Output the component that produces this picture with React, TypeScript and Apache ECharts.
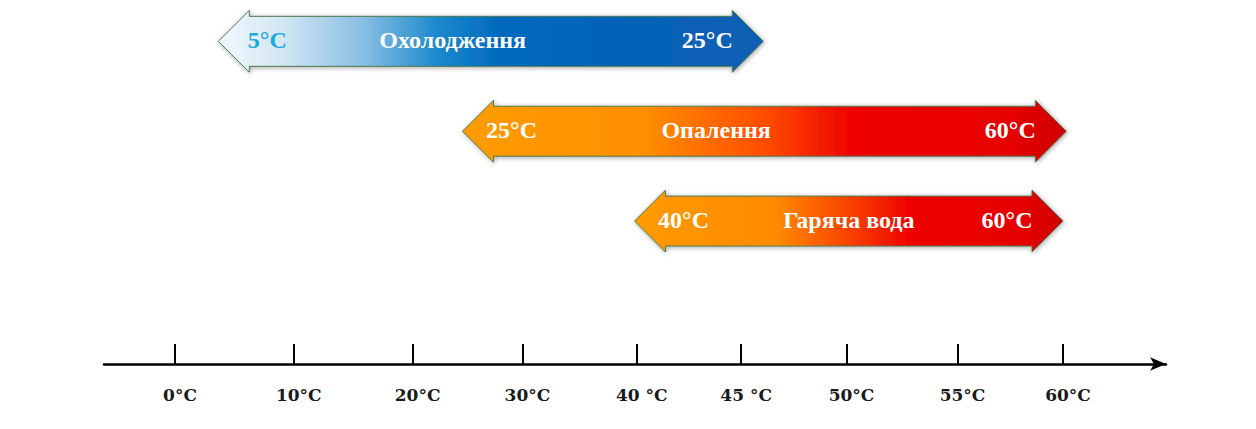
import React, { useEffect, useRef } from "react";
import * as echarts from "echarts";

// Axis ticks (temperature labels) and their positions along the schematic axis
const tickLabels = ["0°C", "10°C", "20°C", "30°C", "40 °C", "45 °C", "50°C", "55°C", "60°C"];
const tickSlots = [0, 1.07, 2.14, 3.13, 4.16, 5.1, 6.05, 7.05, 8];

// Operating modes
const modeNames = ["Охолодження", "Опалення", "Гаряча вода"];
const modeFrom = ["5°C", "25°C", "40°C"];
const modeTo = ["25°C", "60°C", "60°C"];
const arrowStart = [0.39, 2.59, 4.14];
const arrowEnd = [5.3, 8.03, 8.0];
const modeRow = [2, 1, 0];

const titleFrac = [0.43, 0.42, 0.5];
const gradients = [
  [
    { offset: 0, color: "#f2f8fc" },
    { offset: 0.12, color: "#d2e6f4" },
    { offset: 0.27, color: "#86bde2" },
    { offset: 0.4, color: "#1d89cc" },
    { offset: 0.52, color: "#0068be" },
    { offset: 1, color: "#0a5eb3" },
  ],
  [
    { offset: 0, color: "#ff9c00" },
    { offset: 0.3, color: "#ff8f00" },
    { offset: 0.5, color: "#ff4d00" },
    { offset: 0.64, color: "#ee0500" },
    { offset: 0.9, color: "#e80000" },
    { offset: 1, color: "#cc0000" },
  ],
  [
    { offset: 0, color: "#ff9a00" },
    { offset: 0.33, color: "#ff8a00" },
    { offset: 0.52, color: "#f83a00" },
    { offset: 0.64, color: "#ee0300" },
    { offset: 0.9, color: "#e60000" },
    { offset: 1, color: "#cf0000" },
  ],
];

const arrowData = modeNames.map((_, i) => [arrowStart[i], arrowEnd[i], modeRow[i]]);

const textFont = "bold 24px 'Liberation Serif', 'Times New Roman', serif";

export default function App() {
  const ref = useRef<HTMLDivElement>(null);
  useEffect(() => {
    if (!ref.current) return;
    const chart = echarts.init(ref.current, null, { renderer: "svg" });
    chart.setOption({
      animation: false,
      backgroundColor: "#ffffff",
      grid: { left: 104, right: 90, top: 0, bottom: 65 },
      xAxis: {
        type: "value",
        min: -0.64,
        max: 8.928,
        splitLine: { show: false },
        axisLine: {
          show: true,
          onZero: false,
          symbol: ["none", "arrow"],
          symbolSize: [10, 16],
          lineStyle: { color: "#000", width: 2.5 },
        },
        axisTick: {
          show: true,
          inside: true,
          length: 20,
          customValues: tickSlots,
          lineStyle: { color: "#000", width: 2 },
        },
        axisLabel: {
          show: true,
          customValues: tickSlots,
          margin: 22,
          padding: [0, 0, 0, 10],
          color: "#1a1a1a",
          fontFamily: "'DejaVu Serif', serif",
          fontWeight: "bold",
          fontSize: 17,
          formatter: (v: number) => {
            let best = 0;
            tickSlots.forEach((s, k) => {
              if (Math.abs(s - v) < Math.abs(tickSlots[best] - v)) best = k;
            });
            return tickLabels[best];
          },
        },
      },
      yAxis: { type: "value", min: -1.59, max: 2.46, show: false },
      series: [
        {
          type: "custom",
          clip: false,
          encode: { x: [0, 1], y: 2 },
          data: arrowData,
          renderItem: (params: any, api: any) => {
            const i = params.dataIndex;
            const p0 = api.coord([api.value(0), api.value(2)]);
            const p1 = api.coord([api.value(1), api.value(2)]);
            const x0 = p0[0];
            const x1 = p1[0];
            const cy = p0[1];
            const hs = 25;
            const hh = 31;
            const hl = 31;
            const pts = [
              [x0, cy],
              [x0 + hl, cy - hh],
              [x0 + hl, cy - hs],
              [x1 - hl, cy - hs],
              [x1 - hl, cy - hh],
              [x1, cy],
              [x1 - hl, cy + hh],
              [x1 - hl, cy + hs],
              [x0 + hl, cy + hs],
              [x0 + hl, cy + hh],
            ];
            const tx = x0 + (x1 - x0) * titleFrac[i];
            return {
              type: "group",
              children: [
                {
                  type: "polygon",
                  shape: { points: pts },
                  style: {
                    fill: new echarts.graphic.LinearGradient(0, 0, 1, 0, gradients[i]),
                    stroke: "#4f7a4f",
                    lineWidth: 1,
                    shadowBlur: 5,
                    shadowColor: "rgba(0,0,0,0.35)",
                    shadowOffsetX: 1,
                    shadowOffsetY: 1,
                  },
                },
                {
                  type: "text",
                  x: x0 + 49,
                  y: cy - 1,
                  style: {
                    text: modeFrom[i],
                    fill: i === 0 ? "#1aa9de" : "#ffffff",
                    font: textFont,
                    align: "center",
                    verticalAlign: "middle",
                  },
                },
                {
                  type: "text",
                  x: tx,
                  y: cy - 1,
                  style: {
                    text: modeNames[i],
                    fill: "#ffffff",
                    font: textFont,
                    align: "center",
                    verticalAlign: "middle",
                  },
                },
                {
                  type: "text",
                  x: x1 - 56,
                  y: cy - 1,
                  style: {
                    text: modeTo[i],
                    fill: "#ffffff",
                    font: textFont,
                    align: "center",
                    verticalAlign: "middle",
                  },
                },
              ],
            };
          },
        },
      ],
    });
    return () => chart.dispose();
  }, []);
  return (
    <div
      ref={ref}
      style={{ position: "fixed", left: 0, top: 0, width: 1256, height: 429, background: "#fff" }}
    />
  );
}
